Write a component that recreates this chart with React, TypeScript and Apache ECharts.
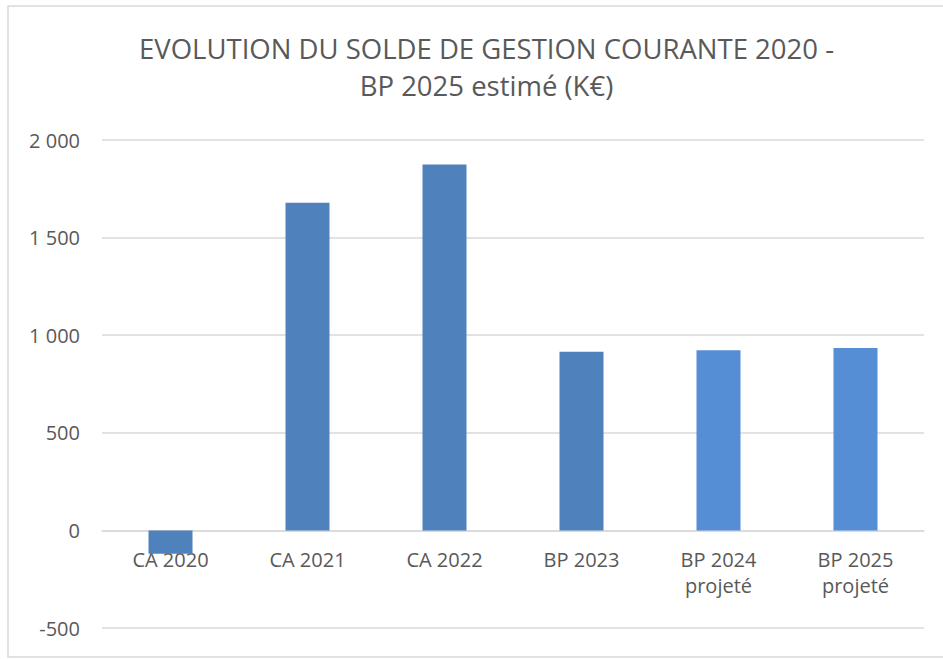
import React, { useEffect, useRef } from "react";
import * as echarts from "echarts";

const categories = ["CA 2020", "CA 2021", "CA 2022", "BP 2023", "BP 2024\nprojeté", "BP 2025\nprojeté"];
const values = [-120, 1679, 1875, 915, 923, 934];
const barColors = ["#4F81BD", "#4F81BD", "#4F81BD", "#4F81BD", "#558ED5", "#558ED5"];
const yTicks = { min: -500, max: 2000, interval: 500 };
const titleText = "EVOLUTION DU SOLDE DE GESTION COURANTE 2020 -\nBP 2025 estimé (K€)";

const FONT = "'Open Sans', 'DejaVu Sans', sans-serif";
const TEXT = "#595959";
const GRID = "#d9d9d9";

const GRID_TOP = 140;
const GRID_BOTTOM_PX = 628;

function fmt(v: number): string {
  const s = Math.abs(v).toString().replace(/\B(?=(\d{3})+(?!\d))/g, " ");
  return (v < 0 ? "-" : "") + s;
}

export default function App() {
  const ref = useRef<HTMLDivElement>(null);
  useEffect(() => {
    if (!ref.current) return;
    const chart = echarts.init(ref.current, undefined, { renderer: "svg" });
    // distance from the grid bottom (value = min) up to the zero line
    const pxPerUnit = (GRID_BOTTOM_PX - GRID_TOP) / (yTicks.max - yTicks.min);
    const zeroOffset = (0 - yTicks.min) * pxPerUnit;
    chart.setOption({
      animation: false,
      backgroundColor: "#ffffff",
      graphic: [
        {
          type: "rect",
          shape: { x: 8, y: 6, width: 960, height: 651 },
          style: { fill: "none", stroke: GRID, lineWidth: 1.5 },
          silent: true,
        },
      ],
      title: {
        text: titleText,
        left: 481.5,
        top: 25,
        textAlign: "center",
        textStyle: {
          fontFamily: FONT,
          fontSize: 27.5,
          fontWeight: "normal",
          color: TEXT,
          lineHeight: 37,
        },
      },
      grid: {
        left: 102,
        right: 19,
        top: GRID_TOP,
        bottom: 659 - GRID_BOTTOM_PX,
        containLabel: false,
        outerBoundsMode: "none",
      },
      xAxis: {
        type: "category",
        data: categories,
        offset: -zeroOffset,
        axisLine: { show: true, onZero: false, lineStyle: { color: GRID, width: 1.5 } },
        axisTick: { show: false },
        axisLabel: {
          fontFamily: FONT,
          fontSize: 20,
          color: TEXT,
          lineHeight: 26,
          margin: 16,
          interval: 0,
        },
      },
      yAxis: {
        type: "value",
        min: yTicks.min,
        max: yTicks.max,
        interval: yTicks.interval,
        axisLine: { show: false },
        axisTick: { show: false },
        splitLine: { lineStyle: { color: GRID, width: 1.5 } },
        axisLabel: {
          fontFamily: FONT,
          fontSize: 20,
          color: TEXT,
          margin: 22,
          formatter: (v: number) => fmt(v),
        },
      },
      series: [
        {
          type: "bar",
          data: values.map((v, i) => ({ value: v, itemStyle: { color: barColors[i] } })),
          barWidth: 44,
        },
      ],
    });
    return () => chart.dispose();
  }, []);
  return (
    <div
      ref={ref}
      style={{ position: "fixed", left: 0, top: 0, width: 943, height: 659 }}
    />
  );
}
